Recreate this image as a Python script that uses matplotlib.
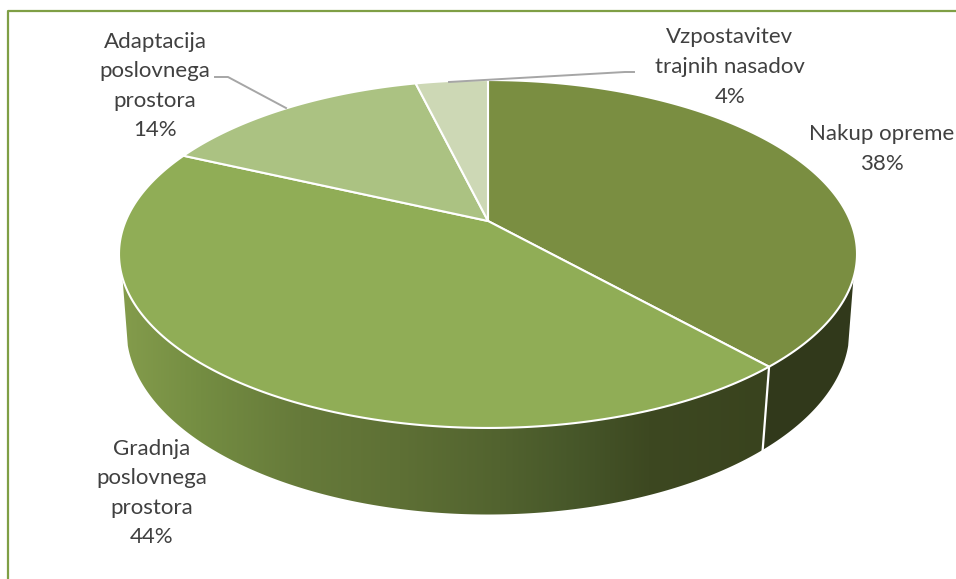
import numpy as np
import matplotlib
matplotlib.use("Agg")
import matplotlib.pyplot as plt
from matplotlib.colors import LinearSegmentedColormap
from matplotlib.patches import Polygon

categories = ["Nakup opreme", "Gradnja\nposlovnega\nprostora",
              "Adaptacija\nposlovnega\nprostora", "Vzpostavitev\ntrajnih nasadov"]
values = [38.4, 43.5, 14.3, 3.8]
colors = ["#7a8e41", "#90ad56", "#abc282", "#cdd8b5"]
label_pos = [(882, 149), (152, 493), (155, 86), (730, 67)]
TEXT = "#404040"


# tilted disc: u, v on the unit circle -> picture pixels, drop is the wall height
def project(theta, drop=0.0):
    u = np.sin(theta)
    v = np.cos(theta)
    k = 0.1897
    w = 1 + k * v + 0.02 * drop
    x = 488 + 362.3 * u / w
    y = 221 - (167.7 * v - 76 * drop) / w
    return x, y


def arc(a, b, drop=0.0):
    return project(np.linspace(a, b, 200), drop)


plt.rcParams["font.family"] = ["Lato", "DejaVu Sans"]
fig = plt.figure(figsize=(9.56, 5.79), dpi=100)
ax = fig.add_axes([0, 0, 1, 1])
ax.set_xlim(0, 956)
ax.set_ylim(579, 0)
ax.axis("off")

# frame, only left and top are inside the crop
ax.plot([8, 8, 956], [579, 11, 11], color="#7f9f45", lw=1.6, zorder=1)

edges = np.cumsum([0] + values) / sum(values) * 2 * np.pi
top_a, top_b = np.radians(108.6), np.radians(251.4)
low_a, low_b = np.radians(105.5), np.radians(254.5)

# side wall, left part has the gradient
split = edges[1]
x1, y1 = arc(split, top_b)
x2, y2 = arc(low_b, split, 1)
left_wall = Polygon(np.column_stack([np.r_[x1, x2], np.r_[y1, y2]]), closed=True,
                    fc="none", ec="none")
ax.add_patch(left_wall)
wall_stops = [(120, "#849c4c"), (200, "#748d42"), (300, "#667a3a"), (400, "#5e7035"),
              (500, "#52632f"), (580, "#465629"), (650, "#3d4821"), (770, "#39431e")]
wall_cmap = LinearSegmentedColormap.from_list(
    "wall", [((px - 120) / 650, c) for px, c in wall_stops])
grad = ax.imshow(np.linspace(0, 1, 256)[None, :], extent=(120, 770, 520, 260),
                 cmap=wall_cmap, aspect="auto", zorder=2)
grad.set_clip_path(left_wall)
ax.set_xlim(0, 956)
ax.set_ylim(579, 0)

x1, y1 = arc(top_a, split)
x2, y2 = arc(split, low_a, 1)
ax.fill(np.r_[x1, x2], np.r_[y1, y2], color="#31391b", lw=0, zorder=2)

# line between the two wall parts
xs0, ys0 = project(split)
xs1, ys1 = project(split, 1)
ax.plot([xs0, xs1], [ys0, ys1], color="white", lw=1.6, zorder=3)

# top face, slices from the values
centre = (488, 221)
for i in range(len(values)):
    x, y = arc(edges[i], edges[i + 1])
    ax.fill(np.r_[centre[0], x], np.r_[centre[1], y], facecolor=colors[i],
            edgecolor="white", lw=1.5, joinstyle="miter", zorder=4)

# leader lines
ax.plot([215, 228, 286], [77, 77, 108], color="#a6a6a6", lw=1.4, zorder=5)
ax.plot([634, 625, 449], [72, 72, 82], color="#a6a6a6", lw=1.4, zorder=5)

for name, val, pos in zip(categories, values, label_pos):
    ax.text(pos[0], pos[1], f"{name}\n{val:.0f}%", ha="center", va="center", fontsize=16,
            color=TEXT, linespacing=1.6, zorder=6)

fig.savefig("out.png", dpi=100)
